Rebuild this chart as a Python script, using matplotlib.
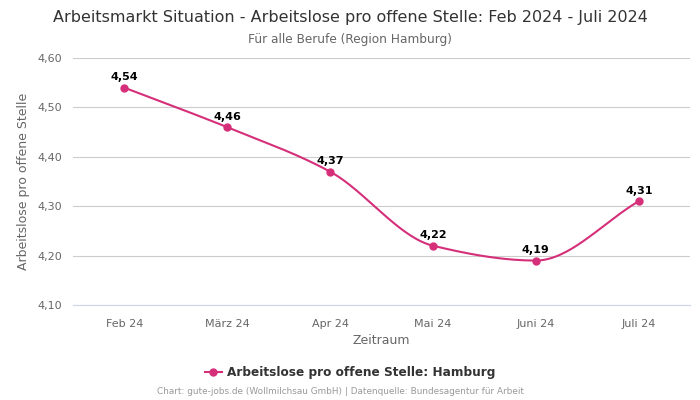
import numpy as np
import matplotlib
matplotlib.use('Agg')
import matplotlib.pyplot as plt

months = ['Feb 24', 'März 24', 'Apr 24', 'Mai 24', 'Juni 24', 'Juli 24']
values = [4.54, 4.46, 4.37, 4.22, 4.19, 4.31]
yticks = [4.10, 4.20, 4.30, 4.40, 4.50, 4.60]
line_color = '#d62f7a'


def pchip(x, y, xs):
    # monotone cubic for a smooth line through the points
    x = np.asarray(x, float)
    y = np.asarray(y, float)
    h = np.diff(x)
    d = np.diff(y) / h
    m = np.zeros_like(y)
    for i in range(1, len(y) - 1):
        if d[i - 1] * d[i] > 0:
            w1 = 2 * h[i] + h[i - 1]
            w2 = h[i] + 2 * h[i - 1]
            m[i] = (w1 + w2) / (w1 / d[i - 1] + w2 / d[i])
    m[0] = d[0]
    m[-1] = d[-1]
    out = []
    for t in xs:
        k = min(int(np.searchsorted(x, t, side='right') - 1), len(x) - 2)
        s = (t - x[k]) / h[k]
        h00 = 2 * s**3 - 3 * s**2 + 1
        h10 = s**3 - 2 * s**2 + s
        h01 = -2 * s**3 + 3 * s**2
        h11 = s**3 - s**2
        out.append(h00 * y[k] + h10 * h[k] * m[k] + h01 * y[k + 1] + h11 * h[k] * m[k + 1])
    return np.array(out)


fig = plt.figure(figsize=(7, 4), dpi=100)
ax = fig.add_axes([0.104, 0.2375, 0.882, 0.6175])

xi = np.arange(len(values))
xs = np.linspace(0, len(values) - 1, 300)
ax.plot(xs, pchip(xi, values, xs), color=line_color, lw=1.5, zorder=3)
ax.plot(xi, values, 'o', color=line_color, ms=5, zorder=4)

for x, v in zip(xi, values):
    ax.annotate(f'{v:.2f}'.replace('.', ','), (x, v), xytext=(0, 4),
                textcoords='offset points', ha='center', va='bottom',
                fontsize=8, fontweight='bold', color='black')

ax.set_xlim(-0.5, len(values) - 0.5)
ax.set_ylim(4.10, 4.60)
ax.set_xticks(xi)
ax.set_xticklabels(months)
ax.set_yticks(yticks)
ax.set_yticklabels([f'{t:.2f}'.replace('.', ',') for t in yticks])
ax.tick_params(length=0, labelsize=8, colors='#666666', pad=8)
ax.tick_params(axis='x', pad=10)
ax.grid(axis='y', color='#cccccc', lw=0.8)
ax.set_axisbelow(True)
for side in ['top', 'right', 'left']:
    ax.spines[side].set_visible(False)
ax.spines['bottom'].set_color('#ccd6eb')
ax.spines['bottom'].set_linewidth(0.8)

ax.set_xlabel('Zeitraum', fontsize=9, color='#666666', labelpad=4)
ax.set_ylabel('Arbeitslose pro offene Stelle', fontsize=9, color='#666666', labelpad=5)

fig.text(0.5, 0.957, 'Arbeitsmarkt Situation - Arbeitslose pro offene Stelle: Feb 2024 - Juli 2024',
         ha='center', va='center', fontsize=11.5, color='#333333')
fig.text(0.5, 0.902, 'Für alle Berufe (Region Hamburg)',
         ha='center', va='center', fontsize=8.7, color='#666666')

ax.plot([], [], '-o', color=line_color, ms=5, lw=1.5, label='Arbeitslose pro offene Stelle: Hamburg')
leg = fig.legend(loc='center', bbox_to_anchor=(0.5, 0.068), frameon=False,
                 prop={'size': 8.7, 'weight': 'bold'}, handlelength=1.4, handletextpad=0.4)
for t in leg.get_texts():
    t.set_color('#333333')

fig.text(0.486, 0.02, 'Chart: gute-jobs.de (Wollmilchsau GmbH) | Datenquelle: Bundesagentur für Arbeit',
         ha='center', va='center', fontsize=6.4, color='#999999')

plt.savefig('out.png', dpi=100)
